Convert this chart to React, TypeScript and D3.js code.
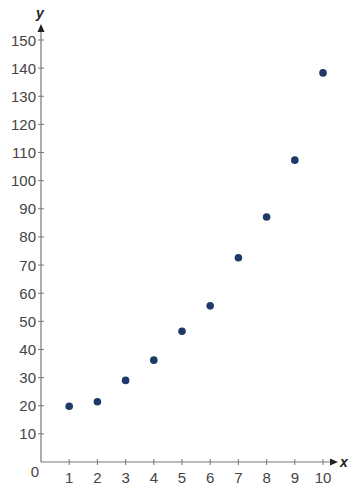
import React from "react";
import * as d3 from "d3";

const xValues = [1, 2, 3, 4, 5, 6, 7, 8, 9, 10];
const yValues = [19.8, 21.4, 29, 36.2, 46.5, 55.5, 72.6, 87.1, 107.3, 138.3];
const xTicks = [1, 2, 3, 4, 5, 6, 7, 8, 9, 10];
const yTicks = [10, 20, 30, 40, 50, 60, 70, 80, 90, 100, 110, 120, 130, 140, 150];

export default function App() {
  const W = 351, H = 487;
  const x = d3.scaleLinear().domain([0, 10]).range([41, 323]);
  const y = d3.scaleLinear().domain([0, 150]).range([462, 40]);
  const axisColor = "#777";
  const textColor = "#444";
  const font = "'Liberation Sans', Arial, sans-serif";
  const fs = 15;
  return (
    <svg width={W} height={H} style={{ position: "absolute", left: 0, top: 0, background: "#fff" }}>
      <line x1={x(0)} y1={y(0)} x2={334} y2={y(0)} stroke={axisColor} strokeWidth={1.2} />
      <path d={`M${338},${y(0)} L${330},${y(0) - 3.5} L${330},${y(0) + 3.5} Z`} fill="#222" />
      <line x1={x(0)} y1={y(0)} x2={x(0)} y2={30} stroke={axisColor} strokeWidth={1.2} />
      <path d={`M${x(0)},${24} L${x(0) - 3.5},${32} L${x(0) + 3.5},${32} Z`} fill="#222" />
      {xTicks.map((t) => (
        <g key={"xt" + t}>
          <line x1={x(t)} x2={x(t)} y1={y(0) - 3} y2={y(0) + 3} stroke={axisColor} strokeWidth={1} />
          <text x={x(t)} y={y(0) + 21} textAnchor="middle" fontFamily={font} fontSize={fs} fill={textColor}>
            {t}
          </text>
        </g>
      ))}
      {yTicks.map((t) => (
        <g key={"yt" + t}>
          <line x1={x(0) - 3} x2={x(0) + 3} y1={y(t)} y2={y(t)} stroke={axisColor} strokeWidth={1} />
          <text x={36} y={y(t) + 5.5} textAnchor="end" fontFamily={font} fontSize={fs} fill={textColor}>
            {t}
          </text>
        </g>
      ))}
      <text x={35} y={y(0) + 15} textAnchor="middle" fontFamily={font} fontSize={fs} fill={textColor}>0</text>
      <text x={344} y={y(0) + 5} textAnchor="middle" fontFamily={font} fontSize={14} fontStyle="italic" fontWeight="bold" fill="#222">x</text>
      <text x={40} y={18} textAnchor="middle" fontFamily={font} fontSize={14} fontStyle="italic" fontWeight="bold" fill="#222">y</text>
      {xValues.map((v, i) => (
        <circle key={"p" + i} cx={x(v)} cy={y(yValues[i])} r={3.8} fill="#1f3a68" />
      ))}
    </svg>
  );
}
